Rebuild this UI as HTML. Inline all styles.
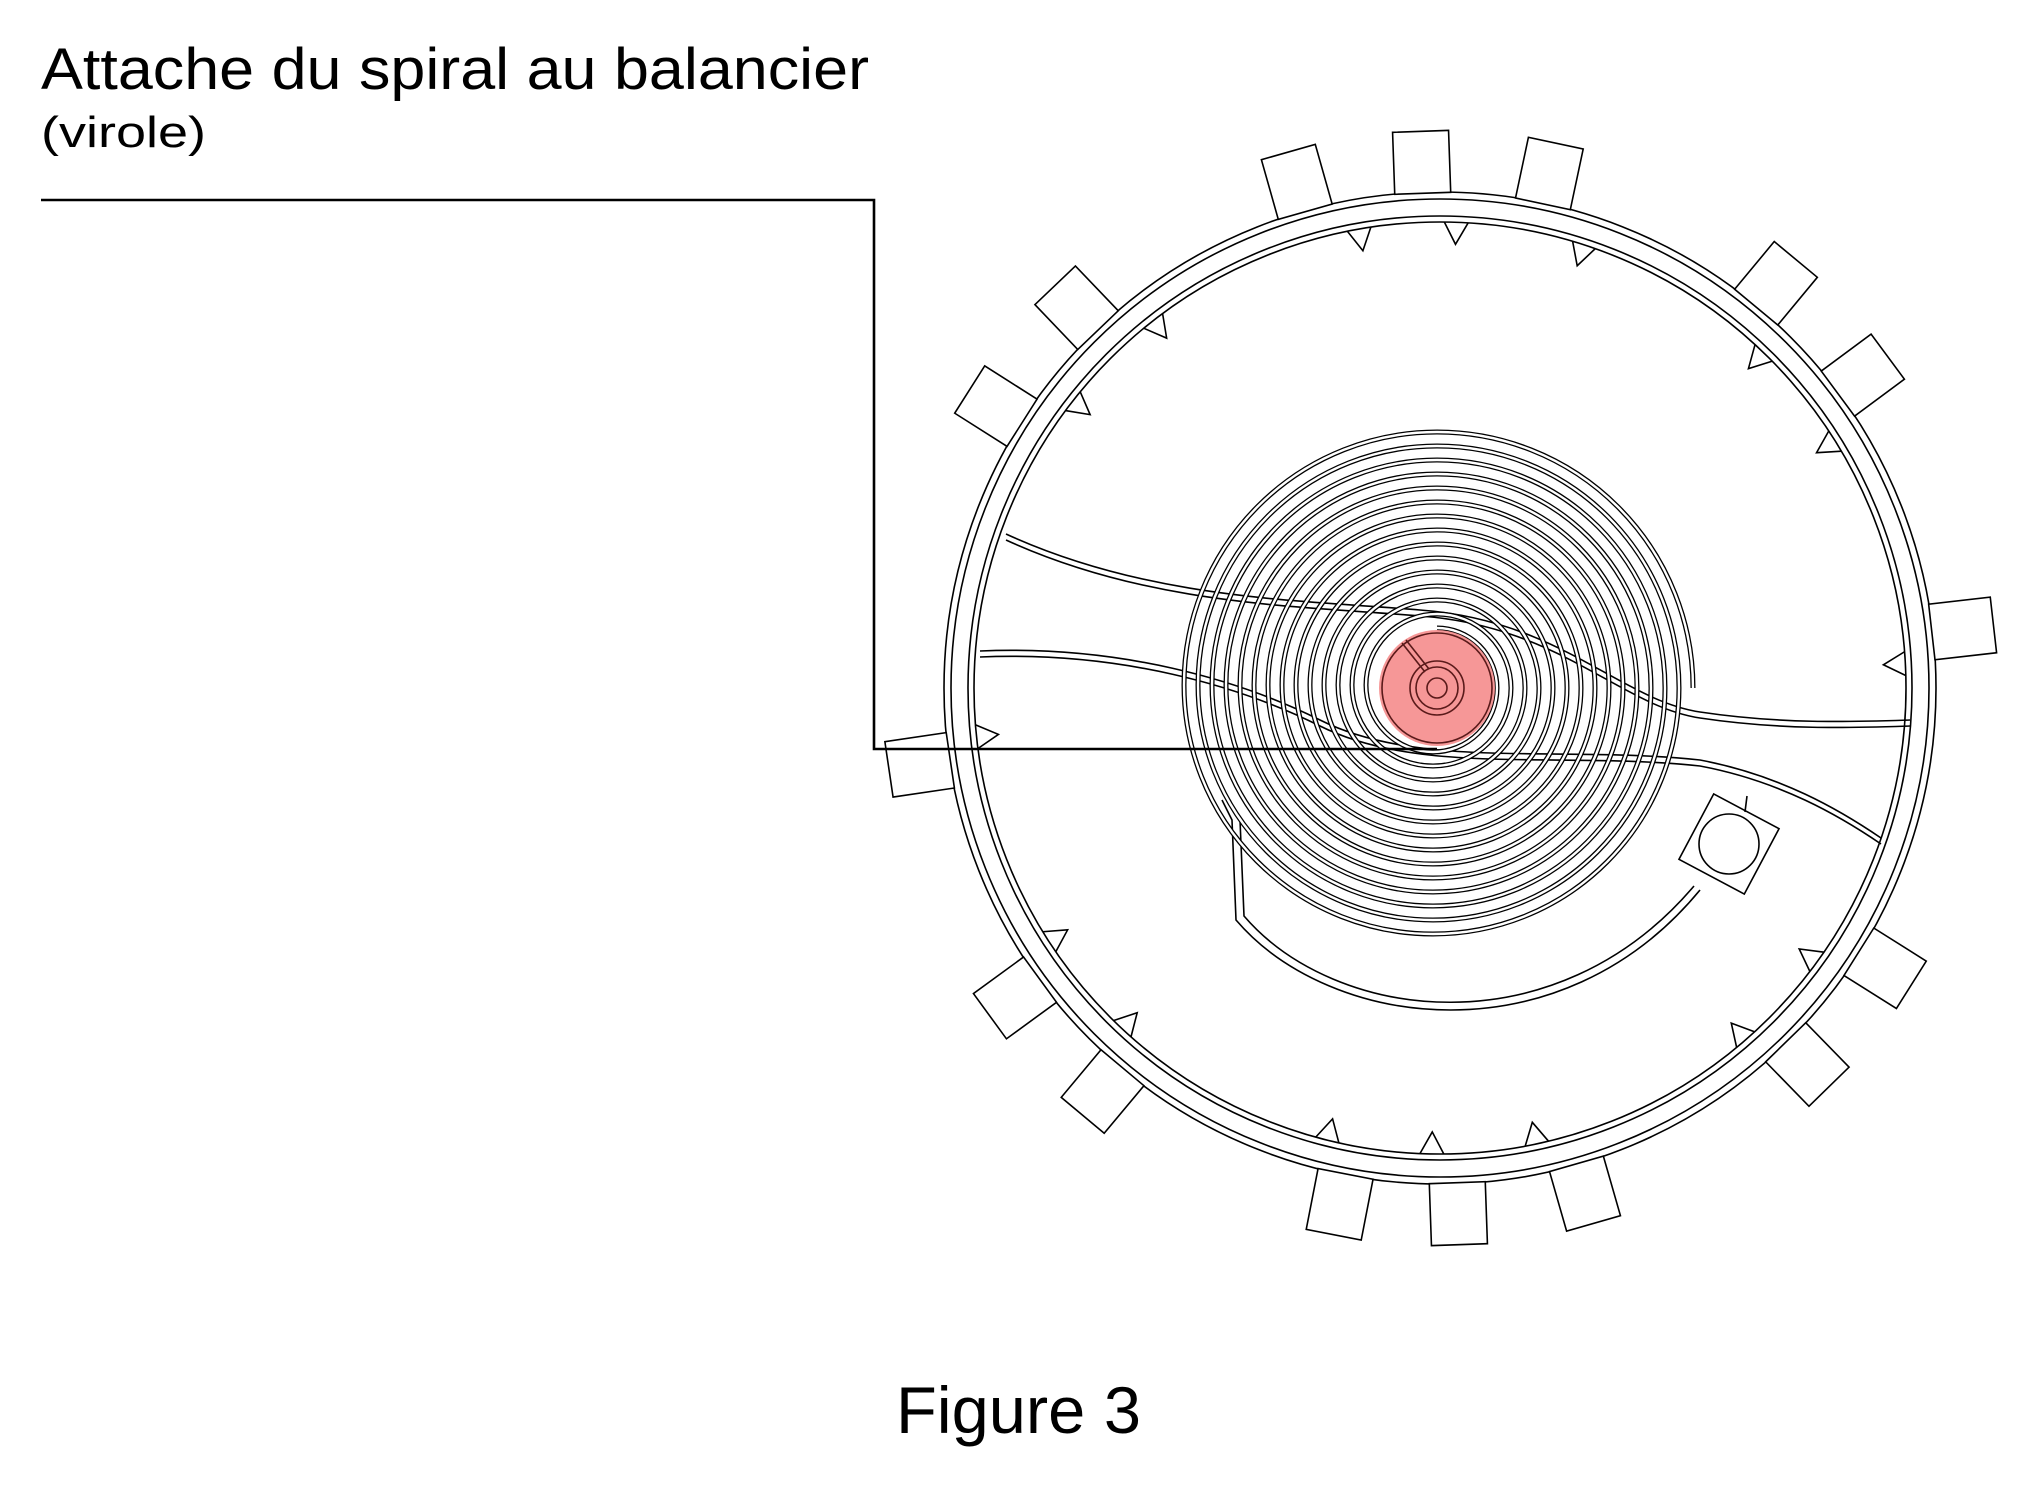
<!DOCTYPE html>
<html><head><meta charset="utf-8"><style>html,body{margin:0;padding:0;background:#fff}svg{display:block}</style></head>
<body>
<svg width="2035" height="1498" viewBox="0 0 2035 1498" xmlns="http://www.w3.org/2000/svg">
<defs>
<path id="sp" fill="none" d="
M1437,628 A60,60 0 0 1 1497,688 A64,64 0 0 1 1433,752 A67,67 0 0 1 1366,685 A71,71 0 0 1 1437,614
A74,74 0 0 1 1511,688 A78,78 0 0 1 1433,766 A81,81 0 0 1 1352,685 A85,85 0 0 1 1437,600
A88,88 0 0 1 1525,688 A92,92 0 0 1 1433,780 A95,95 0 0 1 1338,685 A99,99 0 0 1 1437,586
A102,102 0 0 1 1539,688 A106,106 0 0 1 1433,794 A109,109 0 0 1 1324,685 A113,113 0 0 1 1437,572
A116,116 0 0 1 1553,688 A120,120 0 0 1 1433,808 A123,123 0 0 1 1310,685 A127,127 0 0 1 1437,558
A130,130 0 0 1 1567,688 A134,134 0 0 1 1433,822 A137,137 0 0 1 1296,685 A141,141 0 0 1 1437,544
A144,144 0 0 1 1581,688 A148,148 0 0 1 1433,836 A151,151 0 0 1 1282,685 A155,155 0 0 1 1437,530
A158,158 0 0 1 1595,688 A162,162 0 0 1 1433,850 A165,165 0 0 1 1268,685 A169,169 0 0 1 1437,516
A172,172 0 0 1 1609,688 A176,176 0 0 1 1433,864 A179,179 0 0 1 1254,685 A183,183 0 0 1 1437,502
A186,186 0 0 1 1623,688 A190,190 0 0 1 1433,878 A193,193 0 0 1 1240,685 A197,197 0 0 1 1437,488
A200,200 0 0 1 1637,688 A204,204 0 0 1 1433,892 A207,207 0 0 1 1226,685 A211,211 0 0 1 1437,474
A214,214 0 0 1 1651,688 A218,218 0 0 1 1433,906 A221,221 0 0 1 1212,685 A225,225 0 0 1 1437,460
A228,228 0 0 1 1665,688 A232,232 0 0 1 1433,920 A235,235 0 0 1 1198,685 A239,239 0 0 1 1437,446
A242,242 0 0 1 1679,688 A246,246 0 0 1 1433,934 A249,249 0 0 1 1184,685 A253,253 0 0 1 1437,432
A256,256 0 0 1 1693,688"/>
</defs>
<rect width="2035" height="1498" fill="#fff"/>
<text x="41" y="89" font-family="Liberation Sans, sans-serif" font-size="58" textLength="828" lengthAdjust="spacingAndGlyphs" fill="#000">Attache du spiral au balancier</text>
<text x="41" y="147" font-family="Liberation Sans, sans-serif" font-size="44" textLength="165" lengthAdjust="spacingAndGlyphs" fill="#000">(virole)</text>
<text x="896" y="1433" font-family="Liberation Sans, sans-serif" font-size="66" textLength="245" lengthAdjust="spacingAndGlyphs" fill="#000">Figure 3</text>

<g fill="none" stroke="#000" stroke-width="1.6">
 <circle cx="1440" cy="688" r="496"/>
 <circle cx="1440" cy="688" r="489"/>
 <circle cx="1440" cy="688" r="472"/>
 <circle cx="1440" cy="688" r="466"/>
 <g>
  <rect x="495" y="-28" width="62" height="56" transform="translate(1440 688) rotate(-105.8)" fill="#fff"/>
  <rect x="495" y="-28" width="62" height="56" transform="translate(1440 688) rotate(-92)" fill="#fff"/>
  <rect x="495" y="-28" width="62" height="56" transform="translate(1440 688) rotate(-78)" fill="#fff"/>
  <rect x="495" y="-28" width="62" height="56" transform="translate(1440 688) rotate(-133.7)" fill="#fff"/>
  <rect x="495" y="-28" width="62" height="56" transform="translate(1440 688) rotate(-147.6)" fill="#fff"/>
  <rect x="495" y="-28" width="62" height="56" transform="translate(1440 688) rotate(-50.3)" fill="#fff"/>
  <rect x="495" y="-28" width="62" height="56" transform="translate(1440 688) rotate(-36.5)" fill="#fff"/>
  <rect x="495" y="-28" width="62" height="56" transform="translate(1440 688) rotate(-6.5)" fill="#fff"/>
  <rect x="495" y="-28" width="62" height="56" transform="translate(1440 688) rotate(171.6)" fill="#fff"/>
  <rect x="495" y="-28" width="62" height="56" transform="translate(1440 688) rotate(143.9)" fill="#fff"/>
  <rect x="495" y="-28" width="62" height="56" transform="translate(1440 688) rotate(129.9)" fill="#fff"/>
  <rect x="495" y="-28" width="62" height="56" transform="translate(1440 688) rotate(32.2)" fill="#fff"/>
  <rect x="495" y="-28" width="62" height="56" transform="translate(1440 688) rotate(45.7)" fill="#fff"/>
  <rect x="495" y="-28" width="62" height="56" transform="translate(1440 688) rotate(101)" fill="#fff"/>
  <rect x="495" y="-28" width="62" height="56" transform="translate(1440 688) rotate(88)" fill="#fff"/>
  <rect x="495" y="-28" width="62" height="56" transform="translate(1440 688) rotate(74)" fill="#fff"/>
 </g>
 <g>
  <path d="M466,-12 L444,0 L466,12" transform="translate(1440 688) rotate(-100)"/>
  <path d="M466,-12 L444,0 L466,12" transform="translate(1440 688) rotate(-88)"/>
  <path d="M466,-12 L444,0 L466,12" transform="translate(1440 688) rotate(-72)"/>
  <path d="M466,-12 L444,0 L466,12" transform="translate(1440 688) rotate(-128)"/>
  <path d="M466,-12 L444,0 L466,12" transform="translate(1440 688) rotate(-142)"/>
  <path d="M466,-12 L444,0 L466,12" transform="translate(1440 688) rotate(-46)"/>
  <path d="M466,-12 L444,0 L466,12" transform="translate(1440 688) rotate(-32)"/>
  <path d="M466,-12 L444,0 L466,12" transform="translate(1440 688) rotate(-3)"/>
  <path d="M466,-12 L444,0 L466,12" transform="translate(1440 688) rotate(174)"/>
  <path d="M466,-12 L444,0 L466,12" transform="translate(1440 688) rotate(147)"/>
  <path d="M466,-12 L444,0 L466,12" transform="translate(1440 688) rotate(133)"/>
  <path d="M466,-12 L444,0 L466,12" transform="translate(1440 688) rotate(36)"/>
  <path d="M466,-12 L444,0 L466,12" transform="translate(1440 688) rotate(49)"/>
  <path d="M466,-12 L444,0 L466,12" transform="translate(1440 688) rotate(104)"/>
  <path d="M466,-12 L444,0 L466,12" transform="translate(1440 688) rotate(91)"/>
  <path d="M466,-12 L444,0 L466,12" transform="translate(1440 688) rotate(78)"/>
 </g>
 <path d="M1006,534 C1150,600 1300,600 1420,610 C1560,620 1620,700 1700,712 C1780,724 1850,722 1910,720"/>
 <path d="M1006,540 C1150,606 1300,606 1420,616 C1560,626 1620,706 1700,718 C1780,730 1850,728 1910,726"/>
 <path d="M980,651 C1120,645 1240,680 1320,720 C1420,770 1560,745 1700,760 C1780,775 1840,810 1881,838"/>
 <path d="M980,657 C1120,651 1240,686 1320,726 C1420,776 1560,751 1700,766 C1780,781 1840,816 1881,844"/>
 <path d="M1222,800 L1232,820 L1236,920 C1330,1030 1560,1060 1700,890"/>
 <path d="M1230,800 L1240,820 L1244,916 C1335,1022 1555,1050 1694,886"/>
 <rect x="-37" y="-37" width="74" height="74" transform="translate(1729 844) rotate(28)" fill="#fff"/>
 <circle cx="1729" cy="844" r="30"/>
 <line x1="1745" y1="812" x2="1747" y2="796"/>
</g>
<use href="#sp" stroke="#000" stroke-width="5"/>
<use href="#sp" stroke="#fff" stroke-width="2.4"/>
<circle cx="1437" cy="688" r="58" fill="#f58c8c" fill-opacity="0.9"/>
<g fill="none" stroke="#5a1a1a" stroke-width="1.6">
 <circle cx="1437" cy="688" r="55"/>
 <circle cx="1437" cy="688" r="27"/>
 <circle cx="1437" cy="688" r="21"/>
 <circle cx="1437" cy="688" r="10"/>
 <line x1="1402" y1="643" x2="1425" y2="672"/>
 <line x1="1406" y1="640" x2="1429" y2="669"/>
</g>
<polyline points="41,200 874,200 874,749 1437,749" fill="none" stroke="#000" stroke-width="2.6"/>
</svg>
</body></html>
